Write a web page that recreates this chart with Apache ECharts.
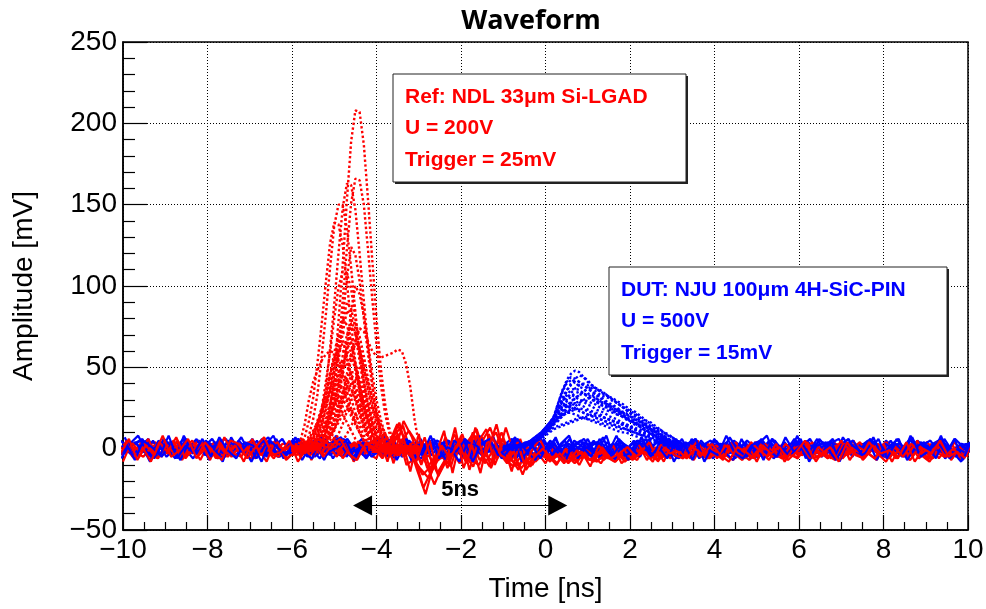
<!DOCTYPE html>
<html>
<head>
<meta charset="utf-8">
<title>Waveform</title>
<script src="https://cdn.jsdelivr.net/npm/echarts@6/dist/echarts.min.js"></script>
<style>
  html, body { margin: 0; padding: 0; background: #fff; }
  #chart { width: 986px; height: 609px; }
</style>
</head>
<body>
<div id="chart"></div>
<script>
// sampling grids of the traces [ns]
// every baseline trace has its own trigger offset
const noiseStarts = [-10, -9.94, -10.06, -9.97, -10.03, -9.91, -10.09, -9.96, -10.04, -9.92]
const noiseDt = 0.2
const refT0 = -6.0, refDt = 0.1
const dutT0 = -1.0, dutDt = 0.1

// DUT (SiC) baseline traces [mV], 101 samples
const dutNoise = [
  [4,-3,1,6,-5,-1,3,-6,2,5, -2,4,-4,0,7,-3,2,-5,4,-6, 1,5,-4,-1,6,-2,-5,3,0,4, -3,2,6,-5,-1,3,-2,5,-6,1, 3,-4,0,5,-5,2,6,-2,-4,3, -1,4,-5,2,-3,6,-4,0,3,-5, 2,5,-2,-6,3,0,4,-3,1,-2, 6,-5,1,3,-4,4,2,-6,0,3, -2,5,-3,1,6,-5,0,3,-2,4, -5,2,3,-3,5,0,-2,4,-6,2, 3],
  [-2,3,6,-4,1,-3,4,0,-6,3, 2,-5,4,-1,-2,6,-3,3,-5,1, 4,-2,0,-6,3,5,-3,1,6,-4, 0,3,-2,5,-3,-6,2,0,4,-1, -5,3,6,-2,1,-4,0,3,5,-3, 2,-1,5,-5,3,0,-3,4,-2,1, -6,3,0,4,-3,2,-5,6,-1,-2, 3,-3,5,1,-6,0,3,-2,4,-4, 1,6,-3,0,-2,4,-5,3,2,-3, 5,-1,-4,2,3,-2,4,-6,0,3, -2],
  [5,0,-3,2,-6,3,4,-2,0,6, -4,1,3,-3,5,-1,-6,2,3,-1, -3,6,1,-5,0,3,-2,4,-3,2, 5,-4,0,2,-2,4,-3,3,-6,0, 2,4,-3,0,3,-5,1,6,-2,-3, 4,0,-6,3,1,-2,5,-3,-1,6, -2,-4,3,1,-3,5,0,-2,6,-5, 2,3,-3,-1,4,-6,2,3,-2,0, 5,-3,1,-5,3,6,-2,0,-3,4, 1,-6,3,0,4,-2,-3,5,1,-4, 0],
  [-3,2,5,-2,3,-5,0,6,-3,1, 4,-6,0,3,-2,5,1,-3,6,-4, 3,0,-2,4,-3,1,6,-5,-1,3, -2,4,-6,1,3,-3,0,5,2,-4, 3,-1,6,0,-5,3,1,-3,4,-2, 0,6,-3,2,-5,3,4,-2,0,-6, 3,1,-3,5,-1,-2,6,-4,1,3, -3,0,4,-2,2,-6,3,5,-3,-1, 2,-2,6,-4,3,0,-3,1,5,-2, -5,3,0,6,-3,2,-1,4,-5,3, 1],
  [2,-3,0,5,-4,6,-2,3,-1,-3, 4,2,-6,3,0,-2,5,-4,1,6, -3,0,3,-2,4,-6,2,-1,3,-5, 6,-2,1,-3,5,0,-4,3,2,-2, 6,-3,0,4,-2,3,-6,1,-1,5, -3,2,-2,6,-4,0,3,1,-3,5, 0,-2,6,-3,1,-5,3,0,4,-2, -6,3,2,-1,5,0,-3,6,-4,1, 3,-2,0,4,-5,2,6,-3,0,3, -2,5,-3,1,-1,-4,3,6,-2,0, 3],
  [0,4,-2,-5,3,1,-3,6,-2,0, 3,-4,5,1,-3,-1,6,-2,-5,3, 1,-3,4,0,-2,6,-5,3,1,-2, -3,5,0,3,-6,2,4,-2,0,-3, 6,1,-4,3,-1,-2,5,-3,2,6, -4,0,3,-2,4,1,-6,0,3,-3, 5,-2,1,-1,-5,6,-3,2,3,-2, 0,4,-6,3,1,-3,5,-1,-2,6, -3,2,0,4,-5,3,-2,1,6,-3, 0,3,-5,2,4,-2,0,-3,6,1, -2],
  [-4,1,3,-2,5,-5,2,0,4,-3, 1,6,-2,-4,2,3,-3,5,0,-5, 3,-1,-3,5,1,-4,2,6,-2,0, 4,-5,2,-1,6,-3,1,-4,3,5, -2,0,5,-4,2,-3,3,-6,4,1, -3,5,-1,-4,2,6,-2,-5,1,3, -4,2,5,-3,0,3,-6,4,-1,2, 5,-4,1,-2,3,-3,6,-1,-5,2, 4,-3,1,5,-2,-4,3,0,-3,5, 2,-4,6,-1,-3,2,5,-2,1,-5, 2],
  [7,-4,2,-8,5,0,-6,8,-2,3, -7,4,6,-5,1,-8,3,7,-3,0, 6,-7,2,5,-4,8,-1,-6,3,-2, 7,-5,0,4,-8,6,-3,2,-7,5, 1,-6,8,-2,3,-5,6,-8,0,4, -3,7,-6,2,5,-4,-1,8,-7,3, 0,-5,6,-3,7,-8,2,4,-6,1, 5,-2,-7,6,-4,3,8,-5,0,-3, 6,-8,2,4,-6,7,-1,-4,5,-7, 3,0,-5,8,-3,2,-6,6,-2,-8, 4],
  [-6,3,8,-2,-5,6,1,-7,4,-3, 5,0,-8,7,-2,3,-6,2,8,-4, -1,6,-5,3,-7,4,7,-3,0,-6, 2,8,-4,-1,5,-7,3,6,-5,0, -8,4,2,-3,7,-6,0,5,-2,-7, 6,-4,3,8,-6,1,-3,7,-5,2, -7,5,0,-4,8,-2,-6,3,6,-8, 2,-3,7,-1,-5,4,-7,6,1,-4, 8,-6,3,-2,5,-8,4,0,-3,7, -5,2,6,-7,1,4,-4,8,-6,0, -3],
  [3,-7,5,1,-4,8,-6,2,-3,6, -5,7,-1,-6,4,2,-8,5,0,-4, 7,-3,-6,8,-2,1,5,-7,4,-5, -1,6,-7,3,2,-4,8,-6,1,-2, 5,-8,3,6,-4,0,7,-5,2,-6, 4,-2,-7,5,1,-5,6,-3,8,-4, -2,7,-5,1,-6,4,3,-7,5,-1, -4,8,-3,-6,2,5,-1,-5,7,-2, 3,-5,6,0,-7,2,5,-4,-1,6, -6,3,-2,7,-5,-1,4,-3,6,-7, 5]
]

// Ref (LGAD) baseline traces [mV], 101 samples
const refNoise = [
  [2,-5,3,-2,-6,4,0,-4,2,-7, 3,-2,-5,4,-1,-6,2,-3,5,-2, -4,3,0,-3,2,4,-2,0,3,-3, 6,-3,9,14,-5,-12,-18,-8,7,-3, 9,-7,-10,3,10,-4,-8,-12,-5,-3, -6,-1,-8,-2,-6,-3,-8,0,-5,-2, -6,1,-4,-1,-5,3,-2,-6,2,-4, 1,-5,3,-3,-7,2,-4,0,-6,3, -1,-5,2,-3,4,-6,0,-4,3,-2, -5,2,-3,-7,0,4,-4,-1,-6,3, -2],
  [-3,3,-5,2,4,-2,-4,3,-3,5, -4,1,3,-5,2,4,-3,0,-6,3, 2,-2,4,-4,0,3,-3,2,-1,4, -2,8,-6,4,11,3,-9,-22,-10,-1, -9,5,12,-4,-8,6,-2,-10,-3,-7, -1,-6,-3,-8,1,-5,-2,-7,-3,1, -4,-7,2,-2,-5,-1,4,-4,-1,-5, 3,-2,-6,1,-4,4,-1,-5,2,-3, -6,3,-1,-4,1,-7,2,-3,-5,4, 0,-4,3,-5,2,-2,-6,3,-1,-4, 2],
  [4,-1,0,-6,3,-3,5,-4,0,2, -5,4,-1,2,-4,0,5,-3,2,-6, 0,4,-3,2,-1,-4,3,0,-3,2, -1,3,15,5,-6,-16,-11,-3,-9,7, -4,-11,4,13,-2,-9,5,-6,-10,-1, -7,-2,-4,-9,-3,-1,-6,-3,-7,-1, -2,2,-6,-3,1,-5,-1,3,-5,-2, -3,2,-1,-5,3,-2,-7,2,-4,0, 3,-4,-1,-6,3,-2,5,-5,0,-3, 3,-6,-1,2,-4,-8,0,-2,4,-5, 0],
  [-1,5,-4,3,0,-5,2,4,-4,-1, 2,-3,5,-4,-1,3,-6,4,0,-3, 3,-4,2,0,-3,1,4,-2,0,-4, 4,-5,2,9,-10,-6,-24,-13,3,-7, 4,-8,-4,7,-12,2,-9,-3,-8,-4, -2,-8,-1,-5,-7,-2,-4,-9,-1,-6, -1,-5,-2,2,-6,-3,1,-2,-7,2, -5,0,-3,4,-6,-1,3,-4,-2,-6, 2,-3,4,-5,-1,0,-4,3,-7,-1, -2,4,-5,0,-1,-4,3,-6,1,-3, -4],
  [0,-3,4,-5,2,3,-4,0,5,-3, 4,-6,0,3,-3,2,-1,5,-4,0, -1,3,-4,5,-3,0,2,-3,4,-1, 0,4,-2,17,7,-8,-4,-15,-6,9, -2,7,-7,-1,15,-6,-11,-4,-11,-3, -5,-3,-9,-1,-4,-7,-2,-5,-8,-3, -5,-1,-3,-7,2,-2,-5,1,-3,-6, 2,-3,-7,-1,1,-5,3,-2,-6,-1, -3,1,-6,2,-2,-5,-1,4,-3,-7, 4,-1,-4,3,-6,0,-2,-5,2,-7, -1],
  [-4,2,-1,3,-3,5,-1,-5,3,0, -2,4,-4,0,3,-5,2,-1,4,-3, 2,0,-3,4,-1,2,-4,3,1,-2, -2,2,5,-3,3,-13,-28,-9,-5,-11, 6,-3,8,-9,-1,10,-5,-13,2,-8, -3,-7,-2,-6,-8,1,-6,-2,-6,-4, -7,-2,1,-5,-2,-6,2,-4,-1,-3, -2,-6,1,-4,2,-3,-5,-1,1,-4, -5,2,-3,-1,-6,3,-4,0,-5,2, -1,-5,1,-3,3,-4,-6,2,-3,0, -5],
  [3,-2,-5,1,4,-3,2,-6,1,4, -3,2,-5,3,1,-4,4,-2,-5,2, -2,4,1,-3,3,-2,0,4,-4,1, 3,-4,7,2,-8,4,-14,3,-12,2, -6,10,-3,-11,5,-7,2,-9,-5,2, -4,-9,0,-5,-3,-7,-1,-6,-2,-8, -3,0,-6,-2,-4,2,-5,-3,0,-6, -1,3,-4,-2,-6,1,-1,-5,3,-2, -4,0,-2,-6,2,-3,1,-5,-2,3, -6,2,-2,-4,1,-3,3,-5,-1,-4, 1],
  [-8,4,-2,6,-6,1,5,-7,3,-4, 2,-6,7,-3,-5,4,0,-8,5,-1, 3,-5,6,-2,-4,7,-6,1,4,-3, -6,10,-9,6,-14,9,-12,-4,11,-15, 8,-13,4,12,-10,3,-14,6,-9,-2, -9,1,-7,-3,-10,0,-8,-4,2,-9, -4,3,-7,1,-8,4,-5,-2,5,-6, -1,-7,4,-5,2,-8,3,-3,-6,2, -5,4,-8,0,-3,5,-7,1,-2,-6, 3,-8,2,-4,5,-6,-1,3,-7,1, -5],
  [5,-6,1,-8,4,-2,7,-5,-1,3, -7,5,-3,2,-8,6,-4,1,4,-7, -2,6,-7,3,1,-5,5,-8,0,4, 7,-8,12,-5,4,-10,5,-17,-7,13, -12,2,-15,9,-6,13,-3,-16,-2,6, -4,-10,-1,-6,-2,-11,2,-5,-8,-1, -7,-2,4,-8,0,-4,-6,2,-5,3, -6,2,-3,-7,4,-1,-5,3,-8,0, 2,-6,1,-4,-7,3,-2,-5,4,-3, -8,1,-5,3,-2,-7,4,-4,0,-6, 2],
  [-3,6,-7,2,-4,8,-5,-1,6,-6, 4,-2,-7,5,3,-6,1,7,-4,-2, 5,-8,0,4,-5,2,6,-3,-7,3, 1,-6,4,16,-3,-8,7,-11,2,-6, 4,-9,13,-6,7,-4,-7,4,-13,-5, 0,-7,-3,-9,-1,-5,-8,1,-6,-3, 1,-5,-2,-8,3,-3,-1,-6,0,-4, 3,-4,-8,1,-2,-6,2,-3,1,-7, -2,5,-6,-3,1,-8,4,-4,-6,2, -3,-1,-6,4,-8,0,-3,5,-5,-2, -6]
]

// Ref (LGAD) pulses [mV], -6.0 .. -3.0 ns
const refPulses = [
  [2,-1,3,0,-2,1,3,2,10,25,46,78,113,153,189,208,207,187,153,116,80,50,28,13,3,-3,-5,-2,1,-3,0],
  [-1,2,0,-3,1,2,-1,1,8,20,37,62,91,123,151,166,165,150,122,92,64,40,22,10,2,-2,-4,1,-3,2,-1],
  [0,3,-2,1,-1,2,8,20,36,61,89,120,148,163,162,147,120,91,63,40,21,10,2,-3,-5,-2,2,-1,-4,0,2],
  [-2,1,0,2,8,18,33,56,82,111,137,150,150,135,111,84,58,36,20,9,2,-4,-3,1,-2,3,0,-3,1,-1,2],
  [1,-2,1,7,17,31,52,76,102,126,139,138,125,102,77,53,34,18,8,1,-3,-1,2,-2,1,-4,0,2,-1,-3,1],
  [2,-1,1,-3,0,2,1,4,10,21,38,58,80,105,124,119,103,80,58,38,23,11,4,-1,-4,-2,1,-3,2,0,-2],
  [-1,2,0,-2,1,6,13,24,41,59,80,99,109,108,98,80,61,42,26,14,7,1,-3,-5,-1,2,-2,0,3,-1,-3],
  [0,2,-3,1,-1,3,0,0,3,8,17,30,46,64,84,100,95,82,64,46,30,18,9,3,-1,-4,-2,2,-1,1,-2],
  [1,-2,2,0,-1,0,3,7,15,27,41,58,78,90,86,74,58,41,27,16,8,3,-1,-3,1,-2,0,2,-3,1,0],
  [-2,1,0,2,0,2,6,14,24,37,51,67,80,76,66,51,37,24,14,7,2,-1,-3,0,2,-2,1,-1,3,0,-2],
  [1,-1,2,0,-2,1,0,2,6,13,22,35,48,63,75,71,62,48,35,22,13,7,2,-1,-3,1,-2,0,2,-1,1],
  [2,-1,1,0,2,6,12,21,32,45,59,70,67,57,45,32,21,13,6,2,-1,-3,1,-1,2,0,-2,1,-1,2,0],
  [-1,1,-2,2,0,-1,2,0,2,5,11,20,30,42,55,65,62,53,42,30,20,12,6,2,-1,-3,0,2,-2,1,-1],
  [0,2,-1,1,-2,0,2,5,10,18,28,38,50,60,57,49,38,28,18,11,5,2,-1,-2,1,-1,2,-2,0,1,-1],
  [1,-1,0,2,4,9,17,25,35,46,55,52,45,35,25,17,10,5,2,-1,-2,1,-1,2,0,-2,1,0,-1,2,0],
  [2,0,-1,1,-2,1,0,-1,0,2,4,9,15,23,32,42,50,48,41,32,23,15,9,5,2,-1,-3,0,1,-2,1],
  [-1,1,0,2,0,1,4,8,14,21,29,38,45,43,37,29,21,14,8,4,1,-2,0,2,-1,1,-2,0,1,-1,0],
  [1,0,-2,1,2,-1,0,1,3,7,12,18,26,34,40,38,33,26,18,12,7,4,1,-2,0,1,-1,2,0,-2,1],
  [1,0,1,3,6,11,16,22,29,35,33,29,22,16,11,6,3,1,-1,0,2,-1,1,0,-2,1,0,-1,2,0,-1],
  [-1,1,0,2,-1,0,1,-2,1,0,1,2,5,9,14,19,25,30,28,25,19,14,9,5,3,1,-1,0,2,-1,0],
  [0,-1,2,1,1,4,9,16,27,39,53,65,71,71,64,53,40,27,17,9,4,1,-2,-1,1,-2,2,0,-1,1,0],
  [-1,1,0,2,-1,0,1,3,8,15,25,37,50,61,67,67,61,50,37,26,16,9,4,1,-2,0,2,-1,1,-2,0],
  [2,0,-1,1,3,7,14,23,33,45,56,61,61,55,45,34,24,15,8,4,1,-2,0,1,-1,2,0,-2,1,0,-1],
  [0,1,-2,2,0,1,3,7,13,21,31,42,52,57,57,52,42,32,22,14,8,3,1,-2,1,-1,0,2,-1,1,-2],
  [1,-1,0,2,1,3,6,11,19,28,38,47,51,51,46,38,29,20,12,7,3,1,-1,1,0,-2,1,2,0,-1,1],
  [2,0,-1,1,0,-2,0,2,6,11,18,26,35,43,47,47,43,35,26,18,12,6,3,0,-2,1,-1,0,2,-1,0],
  [-1,1,0,2,5,9,16,23,31,38,42,41,37,31,23,16,10,5,2,0,-2,1,-1,2,0,-1,1,-2,0,1,-1],
  [1,-1,0,2,-1,0,1,3,6,11,17,24,32,38,36,31,24,17,11,7,3,1,-1,0,2,-1,1,0,-2,1,0],
  [1,0,5,15,30,41,48,54,58,60,59,55,48,40,31,22,14,8,3,0,-2,1,-1,0,2,-2,0,1,-1,0,1],
  [0,2,-1,1,0,-2,1,1,4,9,16,25,35,46,58,68,74,72,66,60,57,56,57,58,59,61,60,52,38,18,3],
  [1,-2,0,2,-1,0,3,7,14,26,39,54,71,85,81,70,54,39,26,15,8,3,-1,-3,0,2,-1,1,-2,0,1],
  [0,1,-1,2,0,2,4,9,17,25,35,46,55,52,45,35,25,17,10,5,2,-1,1,-2,0,2,-1,0,1,-2,0],
  [-1,2,0,-2,1,0,0,1,4,8,14,21,29,38,45,43,37,29,21,14,8,4,1,-1,-3,0,2,-1,1,0,-2],
  [2,-1,0,0,1,3,5,10,15,20,27,32,30,26,20,15,10,6,3,1,-1,0,2,-1,1,-2,0,1,-1,2,0],
  [0,-2,1,0,2,0,1,2,4,8,12,16,21,25,24,21,16,12,8,5,2,1,-1,1,0,-2,1,0,2,-1,0],
  [-1,0,2,-1,1,3,8,15,24,36,48,59,65,65,59,48,36,25,16,9,4,1,-2,0,1,-1,2,0,-2,1,0],
  [1,0,-2,1,0,2,1,4,9,17,29,42,57,70,77,77,69,57,43,30,19,10,5,1,-2,-4,0,2,-1,1,0],
  [1,-1,0,2,5,9,15,22,29,36,40,39,36,29,22,15,10,5,2,0,-2,1,-1,2,0,-1,1,-2,0,1,-1]
]

// DUT (SiC) pulses [mV], -1.0 .. 3.2 ns
const dutPulses = [
  [1,-1,2,0,3,2,4,5,7,9,12,15, 19,27,35,42,46,48,47,44,42,39,37,36,34,32,30,28,26,24,22,20,18,16,14,12,11,9,7,5,3,2,1],
  [-1,2,0,1,3,1,3,5,6,9,11,14, 18,24,30,35,40,43,45,44,41,39,37,35,33,32,30,28,26,24,22,21,19,17,15,13,12,10,8,6,5,3,2],
  [0,1,2,-1,2,3,4,6,8,10,13,16, 20,28,35,40,42,41,38,37,34,33,31,29,28,26,24,23,21,19,17,16,14,12,11,9,7,6,4,3,2,0,1],
  [2,0,1,2,1,3,3,4,6,8,11,14, 17,21,26,30,34,37,39,40,39,37,35,33,32,31,29,28,26,25,23,22,20,18,17,15,13,12,10,8,7,5,4],
  [1,0,-1,2,2,1,3,5,7,8,11,14, 18,24,29,33,36,37,36,34,32,30,29,27,26,24,23,21,20,18,17,15,14,12,11,9,8,6,5,3,2,1,0],
  [0,2,1,0,2,3,2,4,6,9,11,13, 17,21,25,29,32,34,35,34,32,31,29,27,26,25,23,22,21,19,18,16,15,13,12,11,9,8,6,5,3,2,1],
  [-1,1,0,2,1,2,4,5,7,10,12,15, 19,25,29,32,33,32,30,29,27,26,24,23,22,20,19,18,16,15,14,12,11,10,8,7,6,4,3,2,1,0,-1],
  [1,2,0,1,2,2,3,4,6,8,10,13, 16,19,21,24,26,28,29,30,29,28,27,25,24,23,22,21,20,19,17,16,15,14,13,11,10,9,8,6,5,4,3],
  [0,-1,1,2,0,2,3,5,6,8,11,14, 17,21,24,26,27,28,27,26,24,23,22,21,19,18,17,16,15,14,13,12,10,9,8,7,6,5,4,3,2,1,0],
  [2,0,1,-1,2,1,3,4,5,7,10,12, 15,18,20,22,23,24,25,24,23,22,21,20,19,18,17,16,15,14,13,12,11,10,9,8,7,6,5,4,3,2,1],
  [1,0,2,1,-1,2,3,4,6,8,11,13, 16,19,21,22,22,21,20,19,18,17,16,15,14,13,12,11,10,10,9,8,7,6,5,5,4,3,2,1,1,0,-1],
  [0,1,-1,1,2,1,2,3,5,7,9,11, 13,14,15,16,17,18,19,19,18,18,17,16,15,15,14,13,12,12,11,10,9,8,8,7,6,5,4,4,3,2,1],
  [1,-1,0,2,1,3,2,4,5,7,10,12, 15,17,20,22,24,26,28,30,31,30,29,28,27,26,24,23,22,21,20,19,17,16,15,14,12,11,10,8,7,5,4],
  [-1,0,2,1,3,2,4,6,8,10,13,16, 19,23,26,27,26,25,24,22,21,20,19,18,17,16,15,14,13,12,11,10,9,8,7,6,5,4,3,2,1,1,0],
  [0,1,2,0,1,2,3,5,6,8,10,13, 16,19,22,25,28,31,33,35,37,38,37,35,34,32,31,29,28,26,24,23,21,19,17,16,14,12,10,9,7,5,4],
  [1,0,2,1,2,3,4,6,8,10,13,16, 20,28,36,41,44,43,41,39,37,35,33,31,29,27,26,24,22,20,18,17,15,13,11,10,8,6,5,3,2,1,0],
  [0,2,1,-1,1,2,3,5,6,9,11,14, 17,20,23,26,29,31,33,34,33,32,31,29,28,27,25,24,23,21,20,18,17,15,14,12,11,9,8,6,5,4,2],
  [1,-1,0,2,1,2,3,4,6,8,10,13, 16,19,21,23,24,24,23,22,21,20,19,18,17,16,15,14,13,12,11,10,9,8,7,6,5,4,3,2,2,1,0],
  [0,1,1,2,0,3,4,5,7,9,12,15, 19,25,31,36,39,41,41,39,37,35,33,32,30,28,27,25,23,22,20,18,17,15,13,12,10,8,7,5,4,2,1],
  [1,0,-1,1,2,2,2,3,5,6,8,10, 12,13,14,15,16,17,18,19,20,21,20,20,19,18,17,16,16,15,14,13,12,11,10,9,8,7,6,5,4,3,2]
]

// 5 ns marker between the two pulses
const arrowFrom = -4.55, arrowTo = 0.51, arrowLevel = -35
const arrowHalfHead = 0.22 // ns, the triangle is centred on the line end

const refText = ['Ref: NDL 33\u03bcm Si-LGAD', 'U = 200V', 'Trigger = 25mV']
const dutText = ['DUT: NJU 100\u03bcm 4H-SiC-PIN', 'U = 500V', 'Trigger = 15mV']

const RED = '#ff0000'
const BLUE = '#0000ff'

function toPairs (t0, dt, vals) {
  return vals.map((v, i) => [+(t0 + i * dt).toFixed(3), v])
}

function trace (t0, dt, vals, color, width, type) {
  return {
    type: 'line',
    data: toPairs(t0, dt, vals),
    showSymbol: false,
    symbol: 'none',
    silent: true,
    clip: true,
    lineStyle: { color: color, width: width, type: type },
    emphasis: { disabled: true }
  }
}

const series = []
// baseline bands, interleaved so both colours show through
for (let n = 0; n < dutNoise.length; n++) {
  series.push(trace(noiseStarts[n], noiseDt, dutNoise[n], BLUE, 2.2, 'solid'))
  series.push(trace(noiseStarts[(n + 3) % noiseStarts.length], noiseDt, refNoise[n], RED, 2.2, 'solid'))
}
refPulses.forEach(p => series.push(trace(refT0, refDt, p, RED, 2.4, 'dotted')))
dutPulses.forEach(p => series.push(trace(dutT0, dutDt, p, BLUE, 2.4, 'dotted')))

// arrow "5ns"
series.push({
  type: 'line',
  data: [],
  silent: true,
  markLine: {
    silent: true,
    symbol: ['triangle', 'triangle'],
    symbolSize: [20, 19],
    lineStyle: { color: '#000', width: 1.2, type: 'solid' },
    label: {
      show: true,
      position: 'middle',
      formatter: '5ns',
      color: '#000',
      fontFamily: 'Liberation Sans',
      fontWeight: 'bold',
      fontSize: 22,
      distance: 5
    },
    emphasis: { disabled: true },
    data: [[
      { coord: [arrowFrom + arrowHalfHead, arrowLevel] },
      { coord: [arrowTo - arrowHalfHead, arrowLevel] }
    ]]
  }
})

function box (x, y, w, h, lines, color) {
  const els = [
    { type: 'rect', shape: { x: x + 2, y: y + 2, width: w, height: h }, style: { fill: '#222' }, z: 100 },
    { type: 'rect', shape: { x: x, y: y, width: w, height: h }, style: { fill: '#fff', stroke: '#222', lineWidth: 1 }, z: 101 }
  ]
  lines.forEach((s, i) => {
    els.push({
      type: 'text',
      z: 102,
      style: {
        text: s,
        x: x + 12,
        y: y + 23 + i * 31.5,
        fill: color,
        font: 'bold 21px "Liberation Sans"',
        verticalAlign: 'middle'
      }
    })
  })
  return els
}

const minus = v => String(v).replace('-', '\u2212')

const chart = echarts.init(document.getElementById('chart'))
chart.setOption({
  animation: false,
  backgroundColor: '#fff',
  textStyle: { fontFamily: 'Liberation Sans' },
  grid: {
    left: 123, right: 18, top: 42, bottom: 79,
    show: true, borderColor: '#000', borderWidth: 1.5,
    containLabel: false, outerBoundsMode: 'none'
  },
  xAxis: {
    type: 'value',
    min: -10, max: 10, interval: 2,
    name: 'Time [ns]',
    nameLocation: 'middle',
    nameGap: 45,
    nameTextStyle: { color: '#000', fontSize: 28 },
    axisLine: { onZero: false, lineStyle: { color: '#000', width: 1.5 } },
    axisTick: { inside: true, length: 15, lineStyle: { color: '#000', width: 1.2 } },
    minorTick: { show: true, splitNumber: 4, length: 8, lineStyle: { color: '#000', width: 1.2 } },
    axisLabel: { color: '#000', fontSize: 28, margin: 6, formatter: minus },
    splitLine: { show: true, lineStyle: { color: '#000', width: 1, type: [1, 2] } }
  },
  yAxis: {
    type: 'value',
    min: -50, max: 250, interval: 50,
    name: 'Amplitude [mV]',
    nameLocation: 'middle',
    nameGap: 85,
    nameTextStyle: { color: '#000', fontSize: 28 },
    axisLine: { onZero: false, lineStyle: { color: '#000', width: 1.5 } },
    axisTick: { inside: true, length: 24, lineStyle: { color: '#000', width: 1.2 } },
    minorTick: { show: true, splitNumber: 5, length: 12, lineStyle: { color: '#000', width: 1.2 } },
    axisLabel: { color: '#000', fontSize: 28, margin: 6, formatter: minus },
    splitLine: { show: true, lineStyle: { color: '#000', width: 1, type: [1, 2] } }
  },
  graphic: [
    {
      type: 'text',
      z: 102,
      style: {
        text: 'Waveform',
        x: 531, y: 21,
        fill: '#000',
        font: 'bold 27px "Open Sans"',
        align: 'center',
        verticalAlign: 'middle'
      }
    }
  ].concat(box(393, 74, 293, 108, refText, RED), box(609, 267, 338, 108, dutText, BLUE)),
  series: series
})
</script>
</body>
</html>
